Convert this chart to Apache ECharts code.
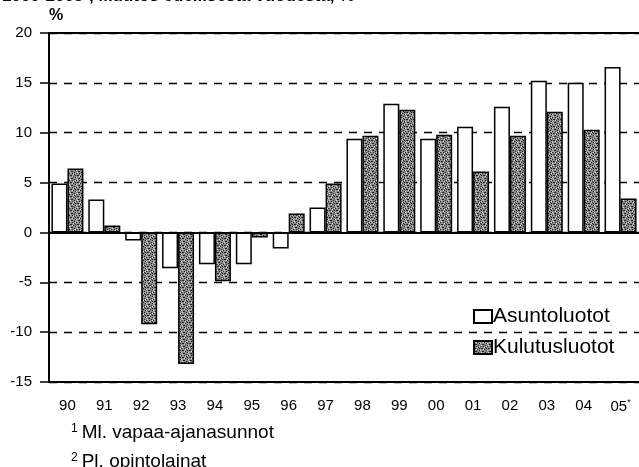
<!DOCTYPE html>
<html>
<head>
<meta charset="utf-8">
<script src="https://cdn.jsdelivr.net/npm/echarts@6/dist/echarts.min.js"></script>
<style>
  html, body { margin: 0; padding: 0; background: #fff; }
  #chart { width: 639px; height: 467px; }
</style>
</head>
<body>
<div id="chart"></div>
<script>
const years = ['90', '91', '92', '93', '94', '95', '96', '97', '98', '99', '00', '01', '02', '03', '04', '05*'];
const asuntoluotot = [4.9, 3.3, -0.8, -3.6, -3.2, -3.2, -1.6, 2.5, 9.4, 12.9, 9.4, 10.6, 12.6, 15.2, 15.0, 16.6];
const kulutusluotot = [6.4, 0.7, -9.2, -13.2, -4.9, -0.5, 1.9, 4.9, 9.7, 12.3, 9.8, 6.1, 9.7, 12.1, 10.3, 3.4];
const yTicks = [-15, -10, -5, 0, 5, 10, 15, 20];

const FONT = '"Liberation Sans", Arial, sans-serif';

// speckled grey fill for the consumer-credit bars
function speckle() {
  const c = document.createElement('canvas');
  c.width = 7;
  c.height = 7;
  const ctx = c.getContext('2d');
  ctx.fillStyle = '#8c8c8c';
  ctx.fillRect(0, 0, 7, 7);
  ctx.fillStyle = '#1e1e1e';
  [[0, 0], [1, 0], [3, 1], [1, 3], [2, 3], [4, 4], [5, 2], [2, 5], [5, 0], [6, 5], [4, 6]].forEach(([x, y]) => ctx.fillRect(x, y, 1, 1));
  ctx.fillStyle = '#dcdcdc';
  [[2, 1], [5, 5], [0, 4], [6, 2], [3, 6]].forEach(([x, y]) => ctx.fillRect(x, y, 1, 1));
  return c;
}

const chart = echarts.init(document.getElementById('chart'));

const opts = {
  animation: false,
  backgroundColor: '#fff',
  textStyle: { fontFamily: FONT, color: '#000' },
  grid: { left: 49, right: -6, top: 33, bottom: 85 },
  legend: {
    orient: 'vertical',
    left: 468,
    top: 301,
    icon: 'rect',
    itemWidth: 18,
    itemHeight: 13,
    itemGap: 10,
    textStyle: { fontFamily: FONT, fontSize: 21, color: '#000', padding: [0, 0, 0, -4] },
    data: ['Asuntoluotot', 'Kulutusluotot'],
  },
  xAxis: [
    {
      type: 'category',
      data: years,
      position: 'bottom',
      axisLine: { onZero: false, lineStyle: { color: '#000', width: 2 } },
      axisTick: { alignWithLabel: true, length: 6, lineStyle: { color: '#000', width: 1.5 } },
      axisLabel: {
        interval: 0,
        fontFamily: FONT,
        fontSize: 15,
        color: '#000',
        margin: 16,
        formatter: (v) => (v.endsWith('*') ? `${v.slice(0, -1)}{s|*}` : v),
        rich: { s: { fontSize: 9, verticalAlign: 'top', padding: [0, 0, 8, 0] } },
      },
    },
    {
      type: 'category',
      data: years,
      position: 'top',
      axisLine: { lineStyle: { color: '#000', width: 2 } },
      axisTick: { show: false },
      axisLabel: { show: false },
    },
  ],
  yAxis: {
    type: 'value',
    min: -15,
    max: 20,
    interval: 5,
    name: '%',
    nameLocation: 'end',
    nameGap: 9,
    nameTextStyle: { fontFamily: FONT, fontSize: 16, fontWeight: 'bold', color: '#000', align: 'left', padding: [0, 0, 0, 0] },
    axisLine: { show: true, lineStyle: { color: '#000', width: 2 } },
    axisTick: { show: true, length: 9, lineStyle: { color: '#000', width: 1.5 } },
    axisLabel: {
      fontFamily: FONT,
      fontSize: 15,
      color: '#000',
      margin: 17,
      customValues: yTicks,
    },
    splitLine: { show: true, lineStyle: { color: '#000', width: 1.3, type: [8, 7] } },
  },
  series: [
    {
      name: 'Asuntoluotot',
      type: 'bar',
      data: asuntoluotot,
      barWidth: 16,
      barGap: '0%',
      itemStyle: { color: '#fff', borderColor: '#000', borderWidth: 1.5 },
      markLine: {
        silent: true,
        symbol: 'none',
        label: { show: false },
        lineStyle: { color: '#000', width: 1.8, type: 'solid' },
        data: [{ yAxis: 0 }, { yAxis: 20 }],
      },
      z: 3,
    },
    {
      name: 'Kulutusluotot',
      type: 'bar',
      data: kulutusluotot,
      barWidth: 16,
      itemStyle: { color: { image: speckle(), repeat: 'repeat' }, borderColor: '#000', borderWidth: 1.5 },
      z: 3,
    },
  ],
  graphic: [
    {
      type: 'text',
      left: 2,
      top: -12,
      style: {
        text: '1990-2005¹, Muutos edellisestä vuodesta, %',
        font: `bold 17px ${FONT}`,
        fill: '#000',
      },
    },
    {
      type: 'text',
      left: 71,
      top: 423,
      style: {
        text: '{s|1}Ml. vapaa-ajanasunnot',
        font: `19px ${FONT}`,
        fill: '#000',
        rich: { s: { fontSize: 12, verticalAlign: 'top', padding: [0, 4, 8, 0] } },
      },
    },
    {
      type: 'text',
      left: 71,
      top: 452,
      style: {
        text: '{s|2}Pl. opintolainat',
        font: `19px ${FONT}`,
        fill: '#000',
        rich: { s: { fontSize: 12, verticalAlign: 'top', padding: [0, 4, 8, 0] } },
      },
    },
  ],
};

chart.setOption(opts);
</script>
</body>
</html>
